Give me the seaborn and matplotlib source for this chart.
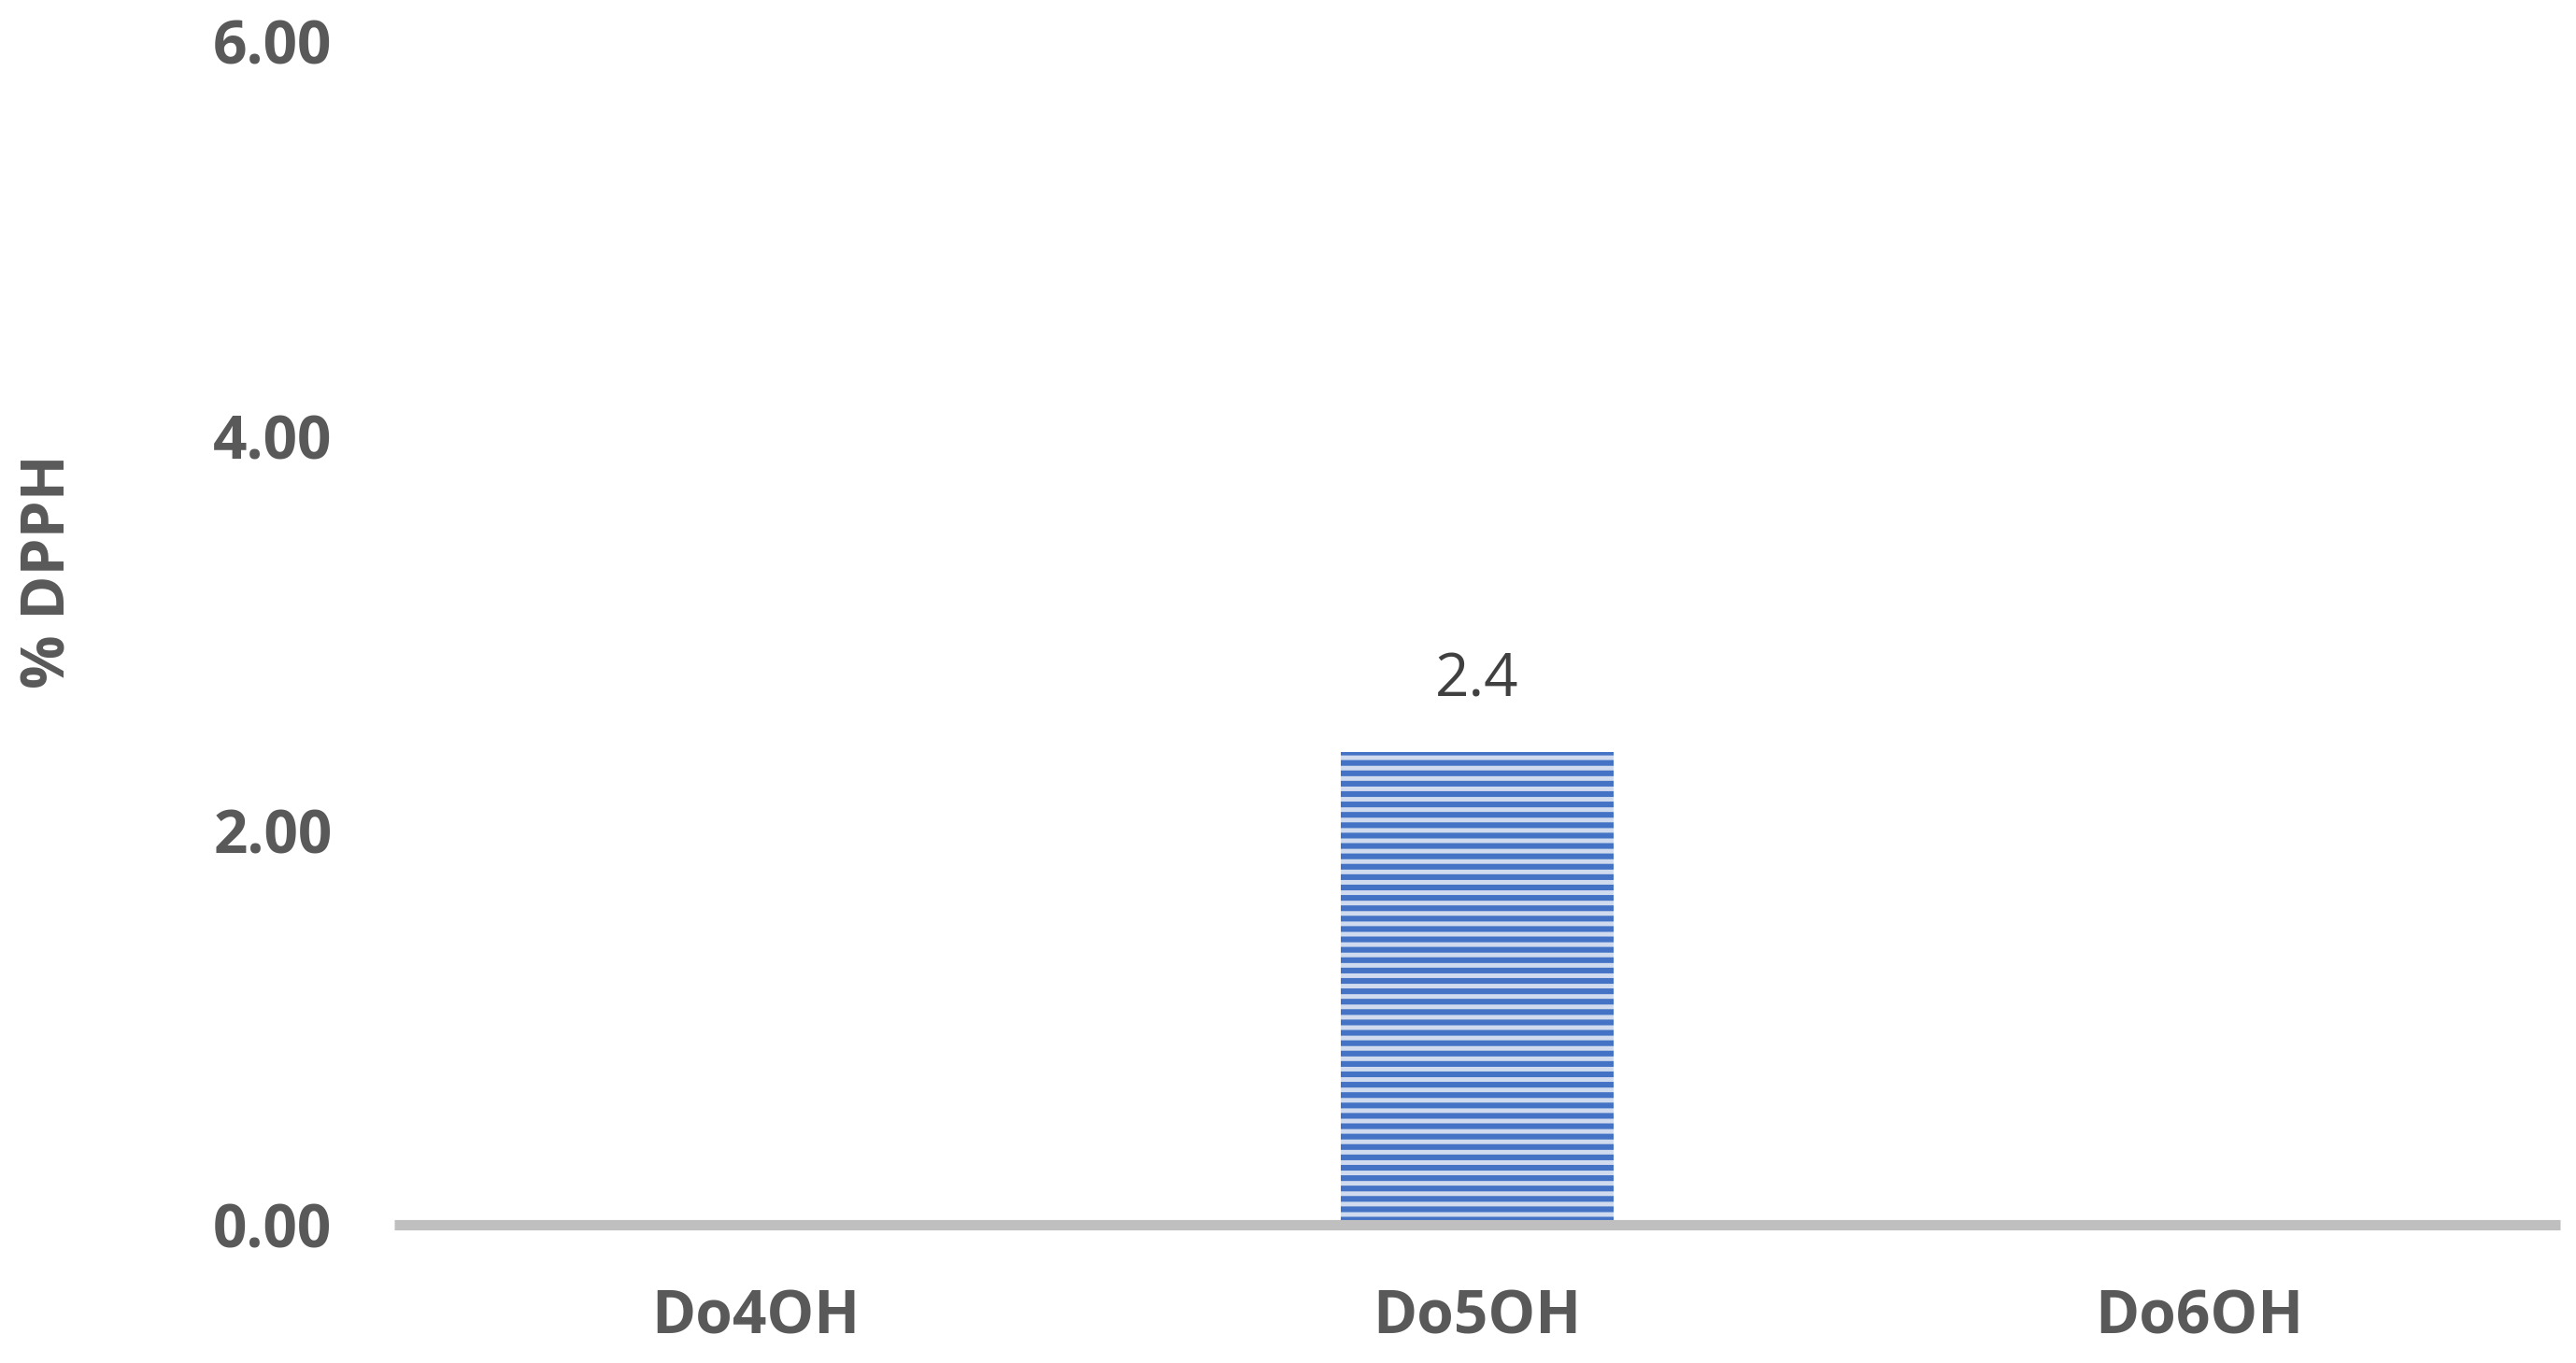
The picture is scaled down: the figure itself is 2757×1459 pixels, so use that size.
import matplotlib
matplotlib.use("Agg")
import matplotlib.pyplot as plt
import seaborn as sns

# data
categories = ["Do4OH", "Do5OH", "Do6OH"]
dpph_values = [0.0, 2.4, 0.0]
y_ticks = [0, 2, 4, 6]
y_label = "% DPPH"

sns.set_theme(style="white")
plt.rcParams["font.family"] = ["Open Sans", "DejaVu Sans"]
plt.rcParams["hatch.linewidth"] = 2.2

fig = plt.figure(figsize=(13.785, 7.295), dpi=200)
ax = fig.add_axes([0.1531, 0.1011, 0.8407, 0.8687])

sns.barplot(x=categories, y=dpph_values, ax=ax, width=0.378,
            color="#D3DDF0", edgecolor="#4472C4", linewidth=0,
            saturation=1, errorbar=None)
for patch in ax.patches:
    patch.set_hatch("---")
    patch.set_edgecolor("#4472C4")
    patch.set_facecolor("#D0DBEF")

labels = [f"{v:g}" if v > 0 else "" for v in dpph_values]
ax.bar_label(ax.containers[0], labels=labels, padding=16,
             fontsize=23, color="#404040")

ax.set_xlim(-0.5, 2.5)
ax.set_ylim(0, 6)
ax.set_yticks(y_ticks)
ax.set_yticklabels([f"{t:.2f}" for t in y_ticks])
ax.tick_params(axis="both", length=0, labelsize=23, labelcolor="#595959")
ax.tick_params(axis="y", pad=24)
ax.tick_params(axis="x", pad=24)
for lab in ax.get_xticklabels() + ax.get_yticklabels():
    lab.set_fontweight("bold")

for side in ["left", "right", "top"]:
    ax.spines[side].set_visible(False)
ax.spines["bottom"].set_color("#BFBFBF")
ax.spines["bottom"].set_linewidth(4)
ax.spines["bottom"].set_capstyle("butt")
ax.set_xlabel("")
ax.set_ylabel("")
ax.grid(False)

fig.text(53 / 2757, 1 - 612 / 1459, y_label, rotation=90, ha="center",
         va="center", fontsize=23, fontweight="bold", color="#595959")

fig.savefig("out.png", dpi=200, facecolor="white")
